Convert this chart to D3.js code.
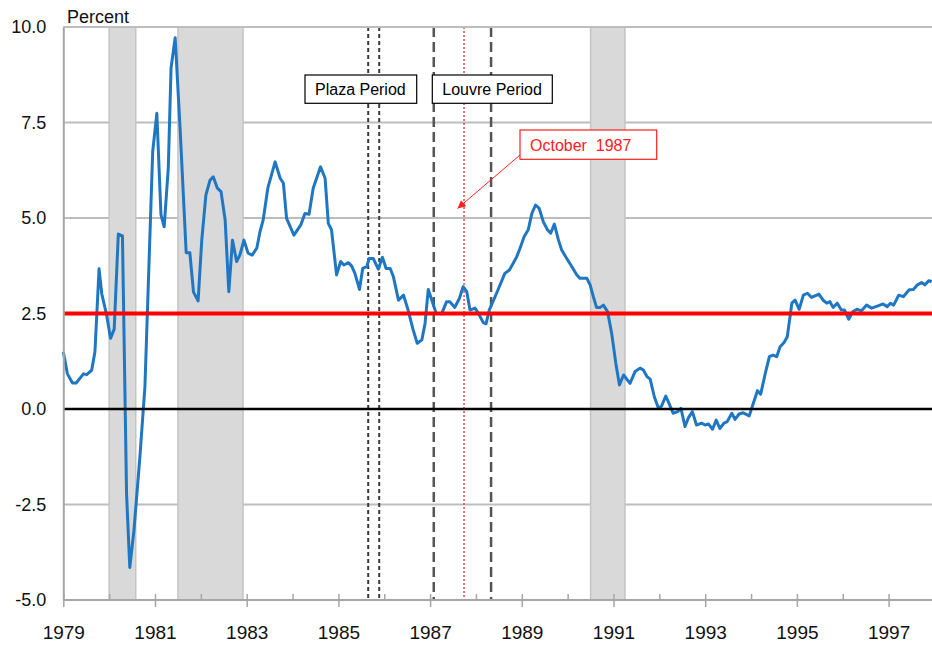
<!DOCTYPE html>
<html>
<head>
<meta charset="utf-8">
<script src="https://cdn.jsdelivr.net/npm/d3@7"></script>
<style>
  body { margin: 0; background: #fff; }
  svg { display: block; font-family: "Liberation Sans", Arial, sans-serif; }
</style>
</head>
<body>
<svg id="chart" width="932" height="645"></svg>
<script>
// observed vertices of the series, decimal year / percent
const obsDate = [
  1979.00, 1979.09, 1979.20, 1979.28, 1979.44, 1979.51, 1979.62, 1979.69, 1979.78, 1979.84,
  1979.95, 1980.03, 1980.11, 1980.20, 1980.29, 1980.38, 1980.45, 1980.54, 1980.67, 1980.78,
  1980.95, 1981.04, 1981.13, 1981.20, 1981.29, 1981.35, 1981.44, 1981.55, 1981.68, 1981.76,
  1981.84, 1981.94, 1982.02, 1982.11, 1982.20, 1982.27, 1982.36, 1982.44, 1982.53, 1982.61,
  1982.69, 1982.78, 1982.85, 1982.94, 1983.03, 1983.12, 1983.22, 1983.29, 1983.36, 1983.46,
  1983.62, 1983.73, 1983.80, 1983.87, 1984.03, 1984.18, 1984.27, 1984.36, 1984.45, 1984.61,
  1984.71, 1984.78, 1984.85, 1984.96, 1985.05, 1985.12, 1985.22, 1985.29, 1985.36, 1985.46,
  1985.53, 1985.62, 1985.67, 1985.76, 1985.87, 1985.96, 1986.04, 1986.13, 1986.20, 1986.31,
  1986.42, 1986.52, 1986.63, 1986.72, 1986.82, 1986.89, 1986.96, 1987.06, 1987.13, 1987.25,
  1987.36, 1987.43, 1987.54, 1987.64, 1987.72, 1987.80, 1987.87, 1987.98, 1988.05, 1988.16,
  1988.22, 1988.29, 1988.45, 1988.63, 1988.73, 1988.81, 1988.89, 1988.96, 1989.05, 1989.14,
  1989.22, 1989.30, 1989.38, 1989.47, 1989.56, 1989.63, 1989.71, 1989.80, 1989.87, 1989.98,
  1990.09, 1990.20, 1990.27, 1990.42, 1990.49, 1990.56, 1990.63, 1990.71, 1990.78, 1990.87,
  1990.96, 1991.05, 1991.13, 1991.22, 1991.36, 1991.47, 1991.58, 1991.65, 1991.73, 1991.80,
  1991.89, 1991.98, 1992.05, 1992.14, 1992.21, 1992.30, 1992.40, 1992.47, 1992.56, 1992.63,
  1992.72, 1992.81, 1992.92, 1993.00, 1993.07, 1993.16, 1993.24, 1993.32, 1993.41, 1993.48,
  1993.58, 1993.65, 1993.74, 1993.83, 1993.96, 1994.05, 1994.14, 1994.21, 1994.31, 1994.40,
  1994.48, 1994.56, 1994.63, 1994.72, 1994.79, 1994.89, 1994.96, 1995.05, 1995.14, 1995.23,
  1995.32, 1995.48, 1995.58, 1995.65, 1995.72, 1995.79, 1995.88, 1995.97, 1996.04, 1996.13,
  1996.22, 1996.31, 1996.41, 1996.52, 1996.63, 1996.77, 1996.88, 1996.97, 1997.04, 1997.11,
  1997.22, 1997.32, 1997.45, 1997.54, 1997.63, 1997.72, 1997.79, 1997.88, 1997.94
];
const obsValue = [
  1.50, 0.92, 0.68, 0.68, 0.92, 0.90, 1.02, 1.50, 3.67, 3.01,
  2.43, 1.85, 2.09, 4.58, 4.53, -2.23, -4.15, -3.19, -1.26, 0.58,
  6.74, 7.74, 5.09, 4.77, 6.31, 8.93, 9.72, 7.28, 4.09, 4.09,
  3.06, 2.83, 4.42, 5.60, 5.99, 6.08, 5.78, 5.69, 4.95, 3.07,
  4.42, 3.86, 4.03, 4.42, 4.08, 4.03, 4.21, 4.64, 4.95, 5.78,
  6.47, 6.04, 5.91, 4.99, 4.55, 4.82, 5.12, 5.10, 5.78, 6.34,
  6.04, 4.86, 4.69, 3.51, 3.86, 3.77, 3.83, 3.74, 3.55, 3.13,
  3.68, 3.73, 3.94, 3.94, 3.66, 3.97, 3.68, 3.68, 3.46, 2.85,
  2.98, 2.59, 2.07, 1.72, 1.81, 2.24, 3.13, 2.77, 2.51, 2.49,
  2.81, 2.81, 2.66, 2.90, 3.20, 3.07, 2.59, 2.64, 2.51, 2.26,
  2.23, 2.59, 3.03, 3.55, 3.64, 3.81, 3.99, 4.20, 4.51, 4.69,
  5.12, 5.34, 5.25, 4.90, 4.69, 4.60, 4.84, 4.42, 4.16, 3.94,
  3.73, 3.51, 3.42, 3.42, 3.25, 2.94, 2.66, 2.66, 2.72, 2.55,
  1.98, 1.20, 0.63, 0.89, 0.67, 0.98, 1.07, 1.02, 0.85, 0.78,
  0.32, 0.02, 0.08, 0.34, 0.15, -0.11, -0.07, 0.02, -0.46, -0.24,
  -0.07, -0.42, -0.37, -0.42, -0.39, -0.53, -0.29, -0.51, -0.37, -0.33,
  -0.11, -0.27, -0.13, -0.10, -0.18, 0.15, 0.48, 0.39, 0.93, 1.37,
  1.41, 1.37, 1.62, 1.74, 1.89, 2.77, 2.85, 2.61, 2.98, 3.03,
  2.92, 3.01, 2.84, 2.77, 2.81, 2.66, 2.77, 2.59, 2.59, 2.35,
  2.55, 2.61, 2.57, 2.72, 2.64, 2.70, 2.75, 2.68, 2.77, 2.72,
  2.98, 2.94, 3.12, 3.13, 3.25, 3.31, 3.25, 3.36, 3.33
];

// recession periods (start, end)
const recessions = [[1980.0, 1980.58], [1981.5, 1982.92], [1990.5, 1991.25]];

const yTicks = [10, 7.5, 5, 2.5, 0, -2.5, -5];
const xTickYears = d3.range(1979, 1998);
const targetRate = 2.5;

// accord windows and the crash month
const plazaDates = [1985.65, 1985.89];
const louvreDates = [1987.08, 1988.33];
const crashDate = 1987.74;
const labels = ["Plaza Period", "Louvre Period", "October  1987"];

let svg = d3.select('#chart');
let plotLeft = 63.3, plotTop = 27, plotBottom = 600, plotRight = 932;

let x = d3.scaleLinear().domain([1979, 1998]).range([plotLeft, plotLeft + 19 * 45.85]);
let y = d3.scaleLinear().domain([-5, 10]).range([plotBottom, plotTop]);

// horizontal grid
svg.append('g').selectAll('line')
  .data(yTicks.filter(d => d !== 0 && d !== -5))
  .join('line')
    .attr('x1', plotLeft).attr('x2', plotRight)
    .attr('y1', d => y(d)).attr('y2', d => y(d))
    .attr('stroke', '#bdbdbd').attr('stroke-width', 2);

// recession shading
svg.append('g').selectAll('rect')
  .data(recessions)
  .join('rect')
    .attr('x', d => x(d[0])).attr('width', d => x(d[1]) - x(d[0]))
    .attr('y', plotTop).attr('height', plotBottom - plotTop)
    .attr('fill', '#d9d9d9')
    .attr('stroke', '#c4c4c4').attr('stroke-width', 1.5);

// accord windows
svg.append('g').selectAll('line')
  .data(plazaDates)
  .join('line')
    .attr('x1', d => x(d)).attr('x2', d => x(d))
    .attr('y1', plotTop).attr('y2', plotBottom)
    .attr('stroke', '#3a3a3a').attr('stroke-width', 2)
    .attr('stroke-dasharray', '4,3');

svg.append('g').selectAll('line')
  .data(louvreDates)
  .join('line')
    .attr('x1', d => x(d)).attr('x2', d => x(d))
    .attr('y1', plotTop).attr('y2', plotBottom)
    .attr('stroke', '#555').attr('stroke-width', 2.5)
    .attr('stroke-dasharray', '10,5');

svg.append('line')
  .attr('x1', x(crashDate)).attr('x2', x(crashDate))
  .attr('y1', plotTop).attr('y2', plotBottom)
  .attr('stroke', '#e8474a').attr('stroke-width', 1.5)
  .attr('stroke-dasharray', '2,2');

// the series
let points = obsDate.map((d, i) => [d, obsValue[i]]);
let line = d3.line().x(d => x(d[0])).y(d => y(d[1]));
svg.append('path')
  .datum(points)
  .attr('d', line)
  .attr('fill', 'none')
  .attr('stroke', '#1f77c3')
  .attr('stroke-width', 3)
  .attr('stroke-linejoin', 'round');

// zero and target lines
svg.append('line')
  .attr('x1', plotLeft).attr('x2', plotRight)
  .attr('y1', y(0)).attr('y2', y(0))
  .attr('stroke', '#000').attr('stroke-width', 2.5);
svg.append('line')
  .attr('x1', plotLeft).attr('x2', plotRight)
  .attr('y1', y(targetRate)).attr('y2', y(targetRate))
  .attr('stroke', '#ff0000').attr('stroke-width', 4);

// frame: top line, left axis, bottom axis
svg.append('line')
  .attr('x1', plotLeft).attr('x2', plotRight).attr('y1', plotTop).attr('y2', plotTop)
  .attr('stroke', '#bdbdbd').attr('stroke-width', 2);

let yAxis = svg.append('g')
  .attr('transform', `translate(${plotLeft},0)`)
  .call(d3.axisLeft(y).tickValues(yTicks).tickSize(0).tickPadding(17)
    .tickFormat(d => d.toFixed(1)));
yAxis.select('.domain').attr('stroke', '#a6a6a6').attr('stroke-width', 2);
yAxis.selectAll('text').attr('font-size', 18).attr('fill', '#111')
  .attr('font-family', '"Liberation Sans", Arial, sans-serif');

let xAxis = svg.append('g')
  .attr('transform', `translate(0,${plotBottom})`)
  .call(d3.axisBottom(x).tickValues(xTickYears)
    .tickFormat(d => d % 2 ? d : ''));
xAxis.select('.domain').attr('d', `M${plotLeft},0H${plotRight}`)
  .attr('stroke', '#a6a6a6').attr('stroke-width', 2);
xAxis.selectAll('.tick line')
  .attr('stroke', '#a6a6a6').attr('stroke-width', 1.5)
  .attr('y1', -6)
  .attr('y2', d => d % 2 ? 7 : 0);
xAxis.selectAll('text')
  .attr('font-size', 19).attr('fill', '#111')
  .attr('y', 39).attr('dy', null)
  .attr('font-family', '"Liberation Sans", Arial, sans-serif');

svg.append('text')
  .attr('x', 67).attr('y', 23)
  .attr('font-size', 18).attr('fill', '#111')
  .text('Percent');

// label boxes
let boxes = [
  {text: labels[0], x0: 305, x1: 416.7, y0: 75, y1: 103.3, color: '#000'},
  {text: labels[1], x0: 432.3, x1: 552.3, y0: 75, y1: 103.3, color: '#000'},
  {text: labels[2], x0: 520, x1: 656.7, y0: 130, y1: 159.3, color: '#ff2020'}
];
let box = svg.append('g').selectAll('g').data(boxes).join('g');
box.append('rect')
  .attr('x', d => d.x0).attr('y', d => d.y0)
  .attr('width', d => d.x1 - d.x0).attr('height', d => d.y1 - d.y0)
  .attr('fill', '#fff')
  .attr('stroke', d => d.color).attr('stroke-width', 1.2);
box.append('text')
  .attr('x', d => d.x0 + 10).attr('y', d => (d.y0 + d.y1) / 2 + 6)
  .attr('font-size', 16).attr('fill', d => d.color)
  .attr('xml:space', 'preserve').style('white-space', 'pre')
  .text(d => d.text);

// arrow from the October box to the crash line
svg.append('defs').append('marker')
  .attr('id', 'head').attr('viewBox', '0 0 10 10')
  .attr('refX', 10).attr('refY', 5)
  .attr('markerWidth', 10).attr('markerHeight', 8)
  .attr('markerUnits', 'userSpaceOnUse')
  .attr('orient', 'auto')
  .append('path').attr('d', 'M0,0L10,5L0,10z').attr('fill', '#ff2020');
svg.append('line')
  .attr('x1', 520).attr('y1', 155)
  .attr('x2', 457.5).attr('y2', 208.5)
  .attr('stroke', '#ff2020').attr('stroke-width', 1)
  .attr('marker-end', 'url(#head)');
</script>
</body>
</html>
